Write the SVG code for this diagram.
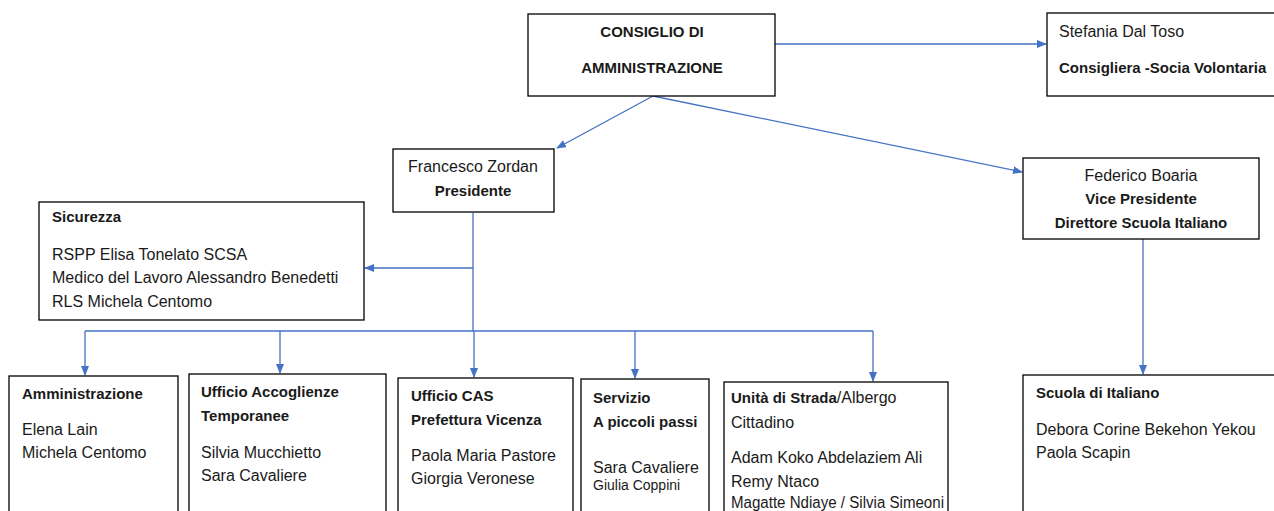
<svg xmlns="http://www.w3.org/2000/svg" width="1274" height="511" viewBox="0 0 1274 511">
<style>
.box{fill:#fff;stroke:#000;stroke-width:1.3}
text{font-family:"Liberation Sans",Arial,sans-serif;font-size:16px;fill:#1a1a1a}
.b{font-weight:bold;font-size:15px}
.c{text-anchor:middle}
.con{fill:none;stroke:#4472C4;stroke-width:1.3}
</style>
<defs>
<marker id="ah" markerWidth="10" markerHeight="8" refX="9" refY="4" orient="auto" markerUnits="userSpaceOnUse">
<path d="M0,0 L10,4 L0,8 z" fill="#4472C4"/>
</marker>
</defs>
<rect width="1274" height="511" fill="#fff"/>
<g id="connectors">
<line class="con" x1="775" y1="44" x2="1046" y2="44" marker-end="url(#ah)"/>
<line class="con" x1="653" y1="96" x2="557" y2="148" marker-end="url(#ah)"/>
<line class="con" x1="653" y1="96" x2="1022" y2="172" marker-end="url(#ah)"/>
<line class="con" x1="473" y1="213" x2="473" y2="331"/>
<line class="con" x1="473" y1="268" x2="365" y2="268" marker-end="url(#ah)"/>
<line class="con" x1="85" y1="331" x2="873" y2="331"/>
<line class="con" x1="85" y1="331" x2="85" y2="375" marker-end="url(#ah)"/>
<line class="con" x1="280" y1="331" x2="280" y2="373" marker-end="url(#ah)"/>
<line class="con" x1="474" y1="331" x2="474" y2="377" marker-end="url(#ah)"/>
<line class="con" x1="635" y1="331" x2="635" y2="378" marker-end="url(#ah)"/>
<line class="con" x1="873" y1="331" x2="873" y2="381" marker-end="url(#ah)"/>
<line class="con" x1="1143" y1="239" x2="1143" y2="374" marker-end="url(#ah)"/>
</g>
<g id="cda">
<rect class="box" x="528" y="14" width="247" height="82"/>
<text class="b c" x="652" y="37">CONSIGLIO DI</text>
<text class="b c" x="652" y="73">AMMINISTRAZIONE</text>
</g>
<g id="stefania">
<rect class="box" x="1047" y="13" width="235" height="83"/>
<text x="1059" y="37">Stefania Dal Toso</text>
<text class="b" x="1059" y="73">Consigliera -Socia Volontaria</text>
</g>
<g id="francesco">
<rect class="box" x="393" y="149" width="161" height="63"/>
<text class="c" x="473" y="172">Francesco Zordan</text>
<text class="b c" x="473" y="196">Presidente</text>
</g>
<g id="federico">
<rect class="box" x="1023" y="158" width="236" height="81"/>
<text class="c" x="1141" y="181">Federico Boaria</text>
<text class="b c" x="1141" y="204">Vice Presidente</text>
<text class="b c" x="1141" y="228">Direttore Scuola Italiano</text>
</g>
<g id="sicurezza">
<rect class="box" x="39" y="202" width="325" height="118"/>
<text class="b" x="52" y="222">Sicurezza</text>
<text x="52" y="260">RSPP Elisa Tonelato SCSA</text>
<text x="52" y="283">Medico del Lavoro Alessandro Benedetti</text>
<text x="52" y="307">RLS Michela Centomo</text>
</g>
<g id="amministrazione">
<rect class="box" x="9" y="376" width="169" height="150"/>
<text class="b" x="22" y="399">Amministrazione</text>
<text x="22" y="435">Elena Lain</text>
<text x="22" y="458">Michela Centomo</text>
</g>
<g id="accoglienze">
<rect class="box" x="189" y="374" width="197" height="150"/>
<text class="b" x="201" y="397">Ufficio Accoglienze</text>
<text class="b" x="201" y="421">Temporanee</text>
<text x="201" y="458">Silvia Mucchietto</text>
<text x="201" y="481">Sara Cavaliere</text>
</g>
<g id="cas">
<rect class="box" x="398" y="378" width="175" height="150"/>
<text class="b" x="411" y="401">Ufficio CAS</text>
<text class="b" x="411" y="425">Prefettura Vicenza</text>
<text x="411" y="461">Paola Maria Pastore</text>
<text x="411" y="484">Giorgia Veronese</text>
</g>
<g id="servizio">
<rect class="box" x="581" y="379" width="128" height="150"/>
<text class="b" x="593" y="403">Servizio</text>
<text class="b" x="593" y="427">A piccoli passi</text>
<text x="593" y="473">Sara Cavaliere</text>
<text x="593" y="490" style="font-size:14px">Giulia Coppini</text>
</g>
<g id="unita">
<rect class="box" x="724" y="382" width="224" height="150"/>
<text x="731" y="403"><tspan class="b">Unità di Strada</tspan>/Albergo</text>
<text x="731" y="428">Cittadino</text>
<text x="731" y="463">Adam Koko Abdelaziem Ali</text>
<text x="731" y="487">Remy Ntaco</text>
<text x="731" y="508" textLength="213" lengthAdjust="spacingAndGlyphs">Magatte Ndiaye / Silvia Simeoni</text>
</g>
<g id="scuola">
<rect class="box" x="1023" y="375" width="260" height="150"/>
<text class="b" x="1036" y="398">Scuola di Italiano</text>
<text x="1036" y="435">Debora Corine Bekehon Yekou</text>
<text x="1036" y="458">Paola Scapin</text>
</g>
</svg>
